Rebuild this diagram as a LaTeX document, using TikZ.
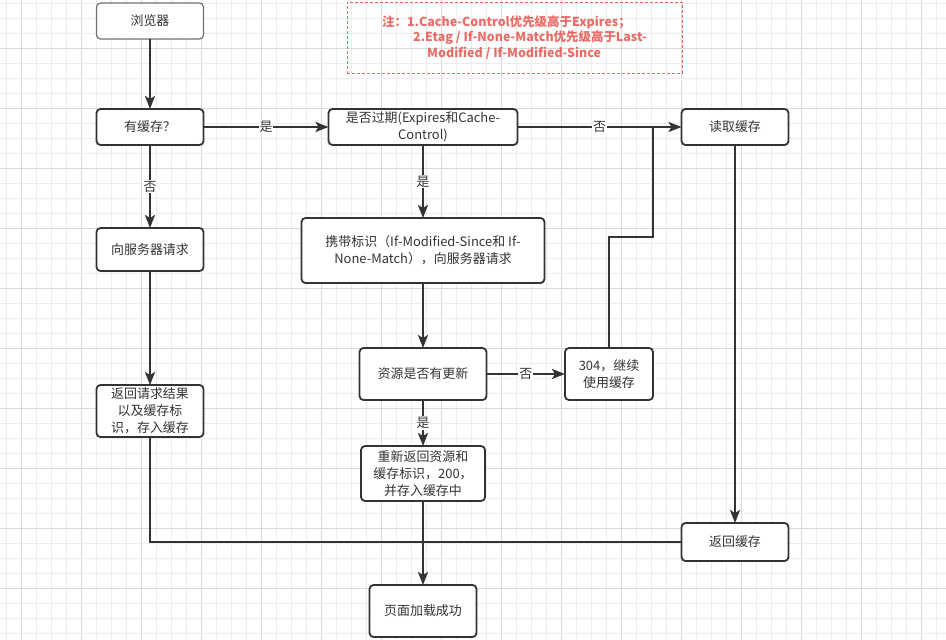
\documentclass[tikz,border=0pt]{standalone}
\usepackage{fontspec}
\setmainfont{Noto Sans CJK SC}
\usetikzlibrary{arrows.meta,positioning}
\definecolor{linegray}{HTML}{333333}
\definecolor{boxgray}{HTML}{707070}
\definecolor{notered}{HTML}{EA6B66}
\definecolor{gridminor}{HTML}{EDEDED}
\definecolor{gridmajor}{HTML}{D9D9D9}

\begin{document}
\begin{tikzpicture}[x=1bp,y=-1bp,->,>={Stealth[length=13bp,width=10bp,inset=3bp]},
  line width=2.2bp,color=linegray,
  main node/.style={rectangle,rounded corners=4bp,draw=linegray,fill=white,line width=1.8bp,
    outer sep=0pt,inner sep=2bp,align=center,font=\fontsize{13}{17}\selectfont,
    minimum width=107bp,minimum height=36bp},
  note node/.style={rectangle,draw=notered,dashed,dash pattern=on 3bp off 2bp,line width=0.8bp,
    text=notered,font=\bfseries\fontsize{12.5}{15.5}\selectfont,align=left,
    minimum width=335bp,minimum height=71bp,inner sep=0pt},
  lbl/.style={-,fill=white,inner sep=1bp,font=\fontsize{13}{15}\selectfont,text=linegray},
  gridline/.style={-,line width=0.7bp,draw=gridminor},
  gridbold/.style={-,line width=0.7bp,draw=gridmajor}]

  \useasboundingbox (0,0) rectangle (946,640);
  % background grid
  \foreach \k in {0,...,62} {
    \pgfmathtruncatemacro\kk{mod(\k,4)}
    \ifnum\kk=1 \draw[gridbold] ({6.5+15*\k},0) -- ({6.5+15*\k},640);
    \else \draw[gridline] ({6.5+15*\k},0) -- ({6.5+15*\k},640); \fi
  }
  \foreach \k in {0,...,42} {
    \pgfmathtruncatemacro\kk{mod(\k,4)}
    \ifnum\kk=3 \draw[gridbold] (0,{3.5+15*\k}) -- (946,{3.5+15*\k});
    \else \draw[gridline] (0,{3.5+15*\k}) -- (946,{3.5+15*\k}); \fi
  }

  \node[main node,draw=boxgray,line width=1.2bp] (browser) at (150,21) {浏览器};
  \node[main node] (hascache) [below=70bp of browser] {有缓存？};
  \node[main node,minimum width=189bp] (expired) [right=125bp of hascache] {是否过期(Expires和Cache-\\Control)};
  \node[main node] (readcache) [right=164bp of expired] {读取缓存};
  \node[main node,minimum height=43bp] (askserver) [below=83bp of hascache] {向服务器请求};
  \node[main node,minimum width=243bp,minimum height=65bp] (carry) [below=73bp of expired]
    {携带标识（If-Modified-Since和 If-\\None-Match），向服务器请求};
  \node[main node,minimum width=127bp,minimum height=52bp] (updated) [below=65bp of carry] {资源是否有更新};
  \node[main node,minimum width=88bp,minimum height=52bp] (notmod) [right=78.5bp of updated] {304，继续\\使用缓存};
  \node[main node,minimum height=52bp] (returnres) [below=114bp of askserver] {返回请求结果\\以及缓存标\\识，存入缓存};
  \node[main node,minimum width=124bp,minimum height=55bp] (fresh) [below=46bp of updated] {重新返回资源和\\缓存标识，200，\\并存入缓存中};
  \node[main node,minimum height=38bp] (returncache) [below=378bp of readcache] {返回缓存};
  \node[main node,minimum height=52bp] (loaded) [below=84bp of fresh] {页面加载成功};

  \node[note node] (note) at (514.5,37.5)
    {注：1.Cache-Control优先级高于Expires；\\
     \hspace*{31bp}2.Etag / If-None-Match优先级高于Last-\\
     \hspace*{45bp}Modified / If-Modified-Since};

  \coordinate[above=111bp of notmod] (up304);
  \coordinate[left=28.5bp of readcache] (join);
  \coordinate (merge) at (fresh |- returncache);

  \path
    (browser) edge (hascache)
    (hascache) edge node[lbl] {是} (expired)
               edge node[lbl] {否} (askserver)
    (expired) edge node[lbl] {否} (readcache)
              edge node[lbl] {是} (carry)
    (askserver) edge (returnres)
    (carry) edge (updated)
    (updated) edge node[lbl] {否} (notmod)
              edge node[lbl] {是} (fresh)
    (readcache) edge (returncache)
    (fresh) edge (loaded);

  \draw[-] (notmod) -- (up304) -| (join);
  \draw[-] (returnres) |- (merge);
  \draw[-] (returncache) -- (merge);
  \fill (merge) circle (1.6bp);
\end{tikzpicture}
\end{document}
